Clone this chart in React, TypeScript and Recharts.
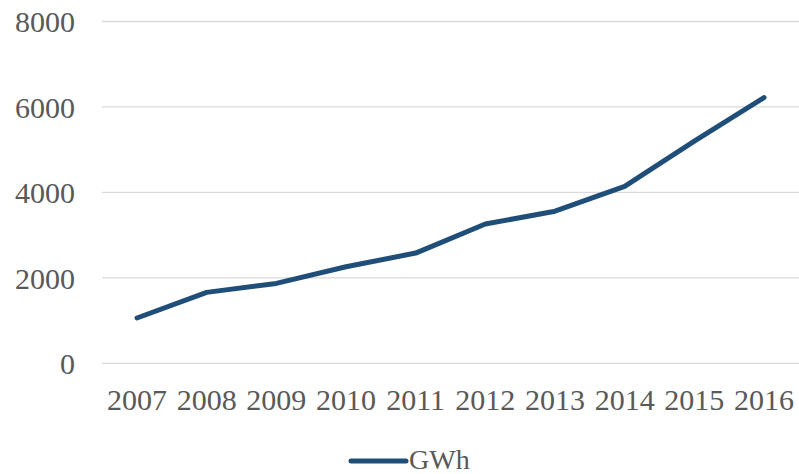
import { LineChart, Line, XAxis, YAxis, CartesianGrid, Legend } from 'recharts';

const years = ['2007', '2008', '2009', '2010', '2011', '2012', '2013', '2014', '2015', '2016'];
const gwh = [1060, 1660, 1870, 2260, 2580, 3260, 3560, 4140, 5200, 6220];
const yTicks = [0, 2000, 4000, 6000, 8000];

const data = years.map((year, i) => ({ year, GWh: gwh[i] }));

const LINE_COLOR = '#1F4E79';
const TEXT_COLOR = '#595959';
const FONT = '"Liberation Serif", "Times New Roman", serif';

const LegendContent = () => (
  <svg width={799} height={34} style={{ display: 'block' }}>
    <line x1={351} y1={21} x2={406} y2={21} stroke={LINE_COLOR} strokeWidth={5} strokeLinecap="round" />
    <text x={409} y={19} dy="0.355em" fontSize={28} fontFamily={FONT} fill={TEXT_COLOR}>
      GWh
    </text>
  </svg>
);

export default function App() {
  return (
    <div style={{ position: 'absolute', left: 0, top: 0, width: 799, height: 474, background: '#fff' }}>
      <LineChart width={799} height={474} data={data} margin={{ top: 21.5, right: 0, left: 0, bottom: 26.7 }}>
        <CartesianGrid vertical={false} stroke="#d9d9d9" strokeWidth={1.3} />
        <XAxis
          dataKey="year"
          axisLine={false}
          tickLine={false}
          tickSize={0}
          tickMargin={25}
          height={50}
          interval={0}
          padding={{ left: 35, right: 35 }}
          tick={{ fill: TEXT_COLOR, fontSize: 30, fontFamily: FONT }}
        />
        <YAxis
          domain={[0, 8000]}
          ticks={yTicks}
          axisLine={false}
          tickLine={false}
          tickSize={0}
          tickMargin={27}
          width={102}
          tick={{ fill: TEXT_COLOR, fontSize: 30, fontFamily: FONT }}
        />
        <Legend
          verticalAlign="bottom"
          content={<LegendContent />}
          wrapperStyle={{ left: 0, width: 799, top: 440 }}
        />
        <Line
          type="linear"
          dataKey="GWh"
          stroke={LINE_COLOR}
          strokeWidth={5}
          strokeLinecap="round"
          strokeLinejoin="round"
          dot={false}
          activeDot={false}
          isAnimationActive={false}
        />
      </LineChart>
    </div>
  );
}
